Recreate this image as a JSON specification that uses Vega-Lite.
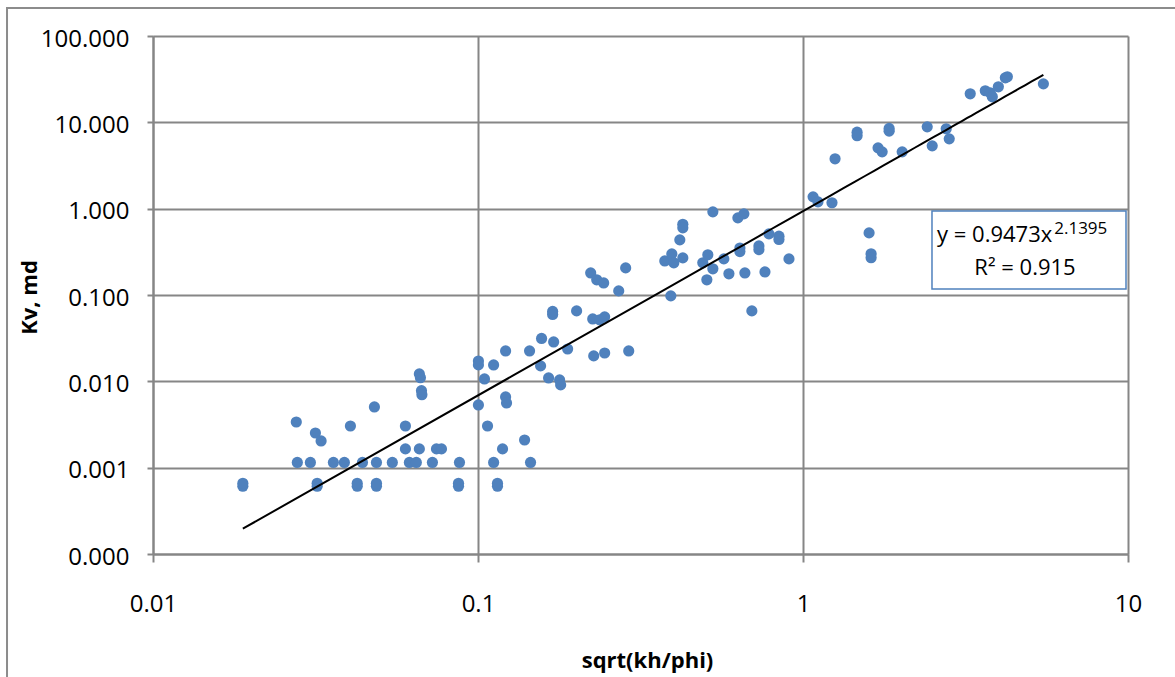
{
  "$schema": "https://vega.github.io/schema/vega-lite/v6.json",
  "width": 975,
  "height": 518,
  "autosize": {"type": "none"},
  "padding": {"left": 153, "top": 36, "right": 47, "bottom": 123},
  "background": "white",
  "config": {"view": {"stroke": null}, "font": "Open Sans"},
  "resolve": {"axis": {"x": "independent", "y": "independent"}},
  "data": {"values": [
    {"x": 0.0189, "y": 0.00061}, {"x": 0.0189, "y": 0.00066},
    {"x": 0.0276, "y": 0.00338},
    {"x": 0.0278, "y": 0.00115},
    {"x": 0.0305, "y": 0.00115},
    {"x": 0.0316, "y": 0.00252},
    {"x": 0.0329, "y": 0.00204},
    {"x": 0.0320, "y": 0.00061}, {"x": 0.0320, "y": 0.00066},
    {"x": 0.0359, "y": 0.00115},
    {"x": 0.0388, "y": 0.00115},
    {"x": 0.0405, "y": 0.00304},
    {"x": 0.0425, "y": 0.00061}, {"x": 0.0425, "y": 0.00066},
    {"x": 0.0441, "y": 0.00115},
    {"x": 0.0480, "y": 0.00505},
    {"x": 0.0487, "y": 0.00115},
    {"x": 0.0487, "y": 0.00061}, {"x": 0.0487, "y": 0.00066},
    {"x": 0.0545, "y": 0.00115},
    {"x": 0.0598, "y": 0.00304},
    {"x": 0.0598, "y": 0.00165},
    {"x": 0.0615, "y": 0.00115},
    {"x": 0.0646, "y": 0.00115},
    {"x": 0.0660, "y": 0.00165},
    {"x": 0.0660, "y": 0.0122}, {"x": 0.0665, "y": 0.0110},
    {"x": 0.0670, "y": 0.0078}, {"x": 0.0672, "y": 0.0070},
    {"x": 0.0724, "y": 0.00115},
    {"x": 0.0745, "y": 0.00165},
    {"x": 0.0772, "y": 0.00165},
    {"x": 0.0871, "y": 0.00061}, {"x": 0.0871, "y": 0.00066},
    {"x": 0.0877, "y": 0.00115},
    {"x": 0.1003, "y": 0.0172}, {"x": 0.1003, "y": 0.0155},
    {"x": 0.1003, "y": 0.00533},
    {"x": 0.1047, "y": 0.01066},
    {"x": 0.1070, "y": 0.00304},
    {"x": 0.1117, "y": 0.01549},
    {"x": 0.1117, "y": 0.00115},
    {"x": 0.1148, "y": 0.00061}, {"x": 0.1148, "y": 0.00066},
    {"x": 0.1190, "y": 0.00165},
    {"x": 0.1216, "y": 0.00660},
    {"x": 0.1224, "y": 0.00562},
    {"x": 0.1216, "y": 0.0225},
    {"x": 0.1391, "y": 0.00209},
    {"x": 0.1441, "y": 0.0225},
    {"x": 0.1451, "y": 0.00115},
    {"x": 0.1558, "y": 0.0151},
    {"x": 0.1569, "y": 0.0314},
    {"x": 0.1649, "y": 0.01095},
    {"x": 0.1709, "y": 0.0286},
    {"x": 0.1697, "y": 0.0645}, {"x": 0.1697, "y": 0.0595},
    {"x": 0.1783, "y": 0.01038},
    {"x": 0.1796, "y": 0.00909},
    {"x": 0.1887, "y": 0.0237},
    {"x": 0.2011, "y": 0.0654},
    {"x": 0.2222, "y": 0.180},
    {"x": 0.2254, "y": 0.0528},
    {"x": 0.2270, "y": 0.0197},
    {"x": 0.2319, "y": 0.150},
    {"x": 0.2368, "y": 0.0515},
    {"x": 0.2436, "y": 0.138},
    {"x": 0.2453, "y": 0.0558},
    {"x": 0.2453, "y": 0.0213},
    {"x": 0.2710, "y": 0.1116},
    {"x": 0.2847, "y": 0.206},
    {"x": 0.2909, "y": 0.0225},
    {"x": 0.3756, "y": 0.248},
    {"x": 0.3920, "y": 0.0976},
    {"x": 0.3948, "y": 0.299},
    {"x": 0.4005, "y": 0.236},
    {"x": 0.4178, "y": 0.435},
    {"x": 0.4268, "y": 0.66}, {"x": 0.4268, "y": 0.60},
    {"x": 0.4268, "y": 0.269},
    {"x": 0.4917, "y": 0.236},
    {"x": 0.5060, "y": 0.150},
    {"x": 0.5095, "y": 0.292},
    {"x": 0.5280, "y": 0.918},
    {"x": 0.5280, "y": 0.201},
    {"x": 0.5708, "y": 0.262},
    {"x": 0.5916, "y": 0.176},
    {"x": 0.6304, "y": 0.782},
    {"x": 0.6578, "y": 0.871},
    {"x": 0.6395, "y": 0.35}, {"x": 0.6395, "y": 0.318},
    {"x": 0.6625, "y": 0.180},
    {"x": 0.6961, "y": 0.0654},
    {"x": 0.7317, "y": 0.37}, {"x": 0.7317, "y": 0.335},
    {"x": 0.7637, "y": 0.185},
    {"x": 0.7856, "y": 0.511},
    {"x": 0.8433, "y": 0.48}, {"x": 0.8433, "y": 0.44},
    {"x": 0.9055, "y": 0.262},
    {"x": 1.074, "y": 1.37},
    {"x": 1.112, "y": 1.20},
    {"x": 1.228, "y": 1.17},
    {"x": 1.255, "y": 3.78},
    {"x": 1.467, "y": 7.7}, {"x": 1.467, "y": 7.0},
    {"x": 1.597, "y": 0.524},
    {"x": 1.620, "y": 0.30}, {"x": 1.620, "y": 0.27},
    {"x": 1.702, "y": 5.06},
    {"x": 1.752, "y": 4.55},
    {"x": 1.841, "y": 8.5}, {"x": 1.841, "y": 7.9},
    {"x": 2.019, "y": 4.55},
    {"x": 2.411, "y": 8.87},
    {"x": 2.498, "y": 5.34},
    {"x": 2.759, "y": 8.41},
    {"x": 2.818, "y": 6.44},
    {"x": 3.270, "y": 21.4},
    {"x": 3.638, "y": 23.2},
    {"x": 3.770, "y": 22.0},
    {"x": 3.824, "y": 19.75},
    {"x": 3.991, "y": 25.8},
    {"x": 4.194, "y": 32.8},
    {"x": 4.254, "y": 33.7},
    {"x": 5.491, "y": 27.9}
  ]},
  "layer": [
    {
      "mark": {"type": "point", "filled": true, "shape": "circle", "size": 125, "color": "#4F81BD", "opacity": 1},
      "encoding": {
        "x": {
          "field": "x", "type": "quantitative",
          "scale": {"type": "log", "domain": [0.01, 10], "nice": false},
          "axis": {
            "title": "sqrt(kh/phi)",
            "values": [0.01, 0.1, 1, 10],
            "format": "~g",
            "grid": true, "gridColor": "#868686", "gridWidth": 2,
            "domainColor": "#868686", "domainWidth": 2,
            "tickColor": "#868686", "tickWidth": 2, "tickSize": 8,
            "labelFont": "Open Sans", "labelFontSize": 24, "labelColor": "#000000",
            "labelPadding": 30, "labelFlush": false, "labelOverlap": false, "labelBound": false,
            "titleFont": "Open Sans", "titleFontSize": 22, "titleFontWeight": "bold", "titleColor": "#000000",
            "titleX": 494, "titleY": 113, "titleBaseline": "alphabetic", "titleAlign": "center"
          }
        },
        "y": {
          "field": "y", "type": "quantitative",
          "scale": {"type": "log", "domain": [0.0001, 100], "nice": false},
          "axis": {
            "title": "Kv, md",
            "values": [0.0001, 0.001, 0.01, 0.1, 1, 10, 100],
            "format": ".3f",
            "grid": true, "gridColor": "#868686", "gridWidth": 2,
            "domainColor": "#868686", "domainWidth": 2,
            "tickColor": "#868686", "tickWidth": 2, "tickSize": 6,
            "labelFont": "Open Sans", "labelFontSize": 24, "labelColor": "#000000",
            "labelPadding": 18, "labelOffset": 3, "labelFlush": false, "labelOverlap": false, "labelBound": false,
            "titleFont": "Open Sans", "titleFontSize": 22, "titleFontWeight": "bold", "titleColor": "#000000",
            "titleX": -117, "titleY": 261, "titleAngle": 270, "titleBaseline": "alphabetic", "titleAlign": "center"
          }
        }
      }
    },
    {
      "data": {"values": [{}]},
      "mark": {"type": "rect", "clip": false, "fill": null, "stroke": "#8c8c8c", "strokeWidth": 2},
      "encoding": {
        "x": {"datum": 0.003555, "type": "quantitative", "axis": null},
        "x2": {"datum": 100},
        "y": {"datum": 211, "type": "quantitative", "axis": null},
        "y2": {"datum": 0.0000001}
      }
    },
    {
      "transform": [{"regression": "y", "on": "x", "method": "pow"}],
      "mark": {"type": "line", "color": "#000000", "strokeWidth": 2},
      "encoding": {
        "x": {"field": "x", "type": "quantitative", "axis": null},
        "y": {"field": "y", "type": "quantitative", "axis": null}
      }
    },
    {
      "data": {"values": [{}]},
      "mark": {"type": "rect", "fill": "white", "stroke": "#4F81BD", "strokeWidth": 1.5},
      "encoding": {
        "x": {"datum": 2.494, "type": "quantitative", "axis": null},
        "x2": {"datum": 9.86},
        "y": {"datum": 0.940, "type": "quantitative", "axis": null},
        "y2": {"datum": 0.1174}
      }
    },
    {
      "data": {"values": [{}]},
      "mark": {"type": "text", "text": "y = 0.9473x", "font": "Open Sans", "fontSize": 22, "align": "left", "baseline": "alphabetic", "color": "#000000"},
      "encoding": {
        "x": {"datum": 2.5844, "type": "quantitative", "axis": null},
        "y": {"datum": 0.4111, "type": "quantitative", "axis": null}
      }
    },
    {
      "data": {"values": [{}]},
      "mark": {"type": "text", "text": "2.1395", "font": "Open Sans", "fontSize": 17, "align": "left", "baseline": "alphabetic", "color": "#000000"},
      "encoding": {
        "x": {"datum": 5.93, "type": "quantitative", "axis": null},
        "y": {"datum": 0.5088, "type": "quantitative", "axis": null}
      }
    },
    {
      "data": {"values": [{}]},
      "mark": {"type": "text", "text": "R² = 0.915", "font": "Open Sans", "fontSize": 22, "align": "center", "baseline": "alphabetic", "color": "#000000"},
      "encoding": {
        "x": {"datum": 4.82, "type": "quantitative", "axis": null},
        "y": {"datum": 0.1705, "type": "quantitative", "axis": null}
      }
    }
  ]
}
